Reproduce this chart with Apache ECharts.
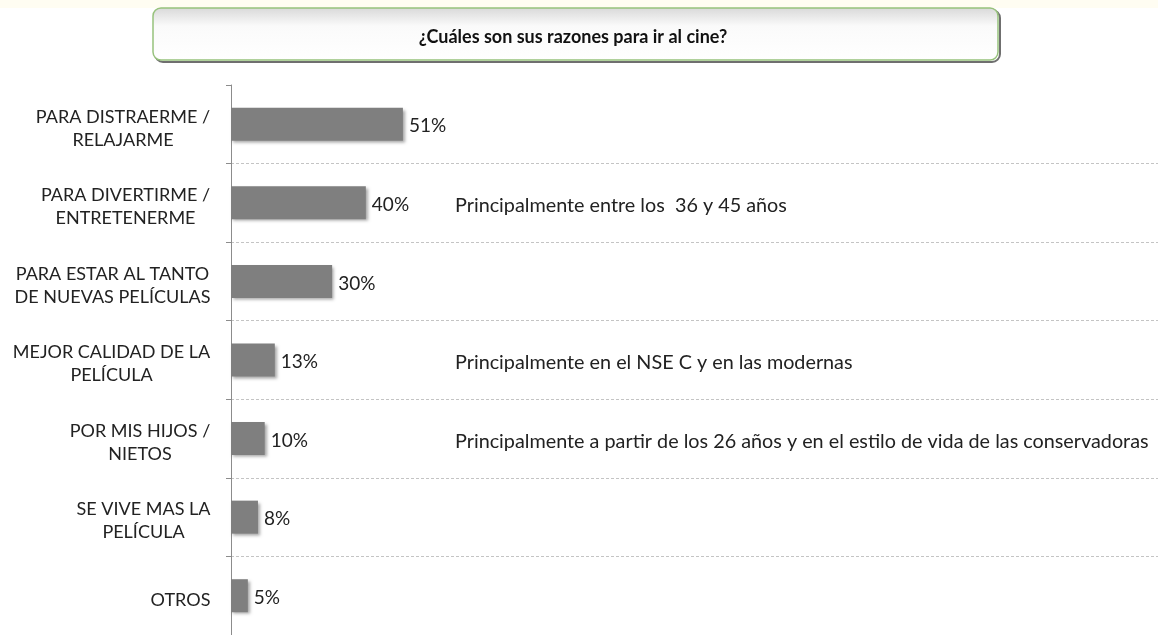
<!DOCTYPE html>
<html>
<head>
<meta charset="utf-8">
<script src="https://cdn.jsdelivr.net/npm/echarts@6/dist/echarts.min.js"></script>
<style>
  html, body { margin: 0; padding: 0; background: #fff; }
  #main { width: 1158px; height: 635px; }
</style>
</head>
<body>
<div id="main"></div>
<script>
// datos
var titulo = '¿Cuáles son sus razones para ir al cine?'
var razones = [
  'PARA DISTRAERME /\nRELAJARME',
  'PARA DIVERTIRME /\nENTRETENERME',
  'PARA ESTAR AL TANTO\nDE NUEVAS PELÍCULAS',
  'MEJOR CALIDAD DE LA\nPELÍCULA',
  'POR MIS HIJOS /\nNIETOS',
  'SE VIVE MAS LA\nPELÍCULA',
  'OTROS'
]
var porcentajes = [51, 40, 30, 13, 10, 8, 5]
var notas = [
  '',
  'Principalmente entre los  36 y 45 años',
  '',
  'Principalmente en el NSE C y en las modernas',
  'Principalmente a partir de los 26 años y en el estilo de vida de las conservadoras',
  '',
  ''
]

var fuente = 'Lato, "Open Sans", sans-serif'
var tamLabel = 18

// ancho de cada etiqueta para centrar las lineas dentro del bloque
var ctx = document.createElement('canvas').getContext('2d')
ctx.font = tamLabel + 'px ' + fuente
var rich = {}
razones.forEach(function(r, i) {
  var w = 0
  r.split('\n').forEach(function(l) { w = Math.max(w, ctx.measureText(l).width) })
  rich['c' + i] = {
    width: Math.ceil(w) + 1, align: 'center', fontSize: tamLabel,
    fontFamily: fuente, color: '#222', lineHeight: 23
  }
})

var chart = echarts.init(document.getElementById('main'))

chart.setOption({
  backgroundColor: '#fff',
  animation: false,
  grid: { left: 231, right: 0, top: 85, bottom: -3 },
  xAxis: {
    type: 'value', min: 0, max: 275,
    show: false
  },
  yAxis: {
    type: 'category',
    inverse: true,
    data: razones,
    axisLine: { lineStyle: { color: '#8c8c8c', width: 1 } },
    axisTick: { show: true, length: 5, lineStyle: { color: '#8c8c8c' } },
    axisLabel: {
      margin: 20,
      align: 'right',
      padding: [8, 0, 0, 0],
      formatter: function(v, i) {
        return v.split('\n').map(function(l) { return '{c' + i + '|' + l + '}' }).join('\n')
      },
      rich: rich
    },
    splitLine: {
      show: true,
      interval: function(i) { return i > 0 },
      lineStyle: { color: '#c4c4c4', type: [3, 2], width: 1 }
    }
  },
  series: [{
    type: 'bar',
    data: porcentajes,
    barWidth: 33,
    itemStyle: {
      color: '#7f7f7f',
      shadowColor: 'rgba(0,0,0,0.35)',
      shadowBlur: 3,
      shadowOffsetX: 2,
      shadowOffsetY: 2
    },
    label: {
      show: true,
      position: 'right',
      distance: 6,
      formatter: '{c}%',
      fontFamily: fuente,
      fontSize: 19,
      color: '#222',
      offset: [0, 2]
    }
  }]
})

// recuadro del titulo y notas laterales
var graficos = [
  { type: 'rect', shape: { x: 0, y: 0, width: 1158, height: 8 }, style: { fill: '#fffdf2' }, z: 0 },
  {
    type: 'rect', z: 1,
    shape: { x: 155, y: 10, width: 845, height: 52, r: 8 },
    style: { fill: 'none', stroke: '#6f6f6f', lineWidth: 2 }
  },
  {
    type: 'rect', z: 2,
    shape: { x: 153, y: 8, width: 845, height: 52, r: 8 },
    style: {
      fill: new echarts.graphic.LinearGradient(0, 0, 0, 1, [
        { offset: 0, color: '#d8d8d8' },
        { offset: 0.35, color: '#fafafa' },
        { offset: 1, color: '#ffffff' }
      ]),
      stroke: '#97c27c', lineWidth: 1.5
    }
  },
  {
    type: 'text', z: 3,
    x: 573, y: 37,
    style: {
      text: titulo, x: 0, y: 0, align: 'center', verticalAlign: 'middle',
      font: 'bold 18px ' + fuente, fill: '#111'
    }
  }
]
notas.forEach(function(n, i) {
  if (!n) return
  var y = chart.convertToPixel({ yAxisIndex: 0 }, razones[i])
  graficos.push({
    type: 'text', z: 3,
    x: 455, y: y + 3,
    style: {
      text: n, x: 0, y: 0, align: 'left', verticalAlign: 'middle',
      font: '19.8px ' + fuente, fill: '#222'
    }
  })
})
chart.setOption({ graphic: graficos })
</script>
</body>
</html>
